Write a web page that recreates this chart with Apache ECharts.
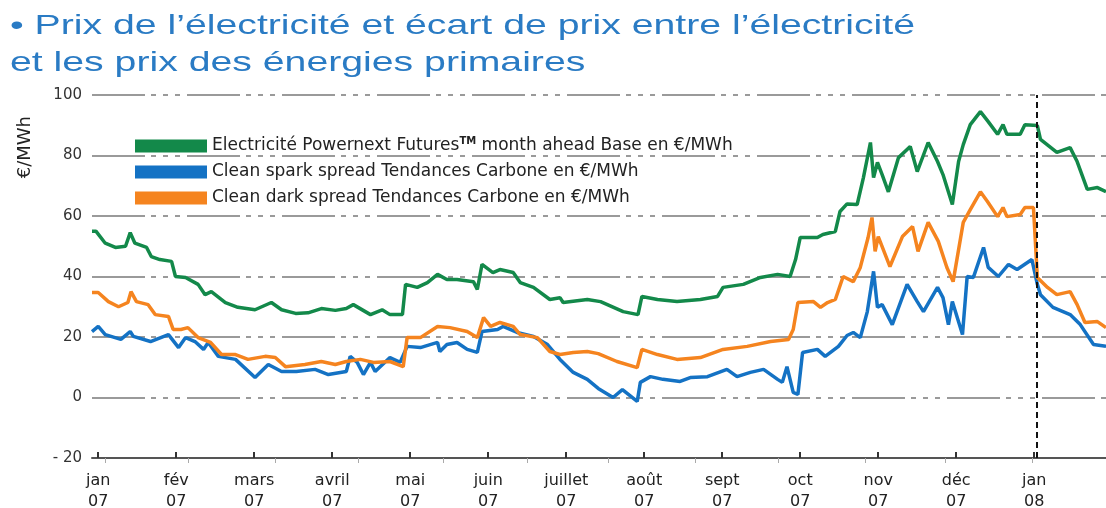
<!DOCTYPE html>
<html>
<head>
<meta charset="utf-8">
<script src="https://cdn.jsdelivr.net/npm/echarts@6/dist/echarts.min.js"></script>
<style>
	html, body { margin: 0; padding: 0; background: #fff; }
	#chart { width: 1106px; height: 508px; }
</style>
</head>
<body>
<div id="chart"></div>
<script>
// libellés des mois (axe x en mois depuis jan 07)
var monthLabels = ['jan\n07', 'fév\n07', 'mars\n07', 'avril\n07', 'mai\n07', 'juin\n07', 'juillet\n07',
	'août\n07', 'sept\n07', 'oct\n07', 'nov\n07', 'déc\n07', 'jan\n08'];
var monthTicks = [0, 1, 2, 3, 4, 5, 6, 7, 8, 9, 10, 11, 12];
var minorTicks = [0.09, 1.15, 2.27, 3.33, 4.42, 5.50, 6.54, 7.65, 8.72, 9.83, 10.86, 11.97];
var cutMonth = 12.03; // trait vertical pointillé début 2008

// Electricité Powernext Futures
var elecMonths = [-0.08, -0.03, 0.09, 0.22, 0.35, 0.41, 0.47, 0.62, 0.68, 0.79,
	0.94, 0.99, 1.12, 1.28, 1.37, 1.45, 1.63, 1.79, 2.01, 2.22,
	2.35, 2.53, 2.69, 2.86, 3.04, 3.18, 3.27, 3.49, 3.64, 3.74,
	3.90, 3.94, 4.09, 4.22, 4.35, 4.47, 4.60, 4.81, 4.86, 4.92,
	5.06, 5.15, 5.32, 5.41, 5.58, 5.79, 5.92, 5.96, 6.27, 6.44,
	6.73, 6.92, 6.97, 7.17, 7.42, 7.72, 7.94, 8.01, 8.27, 8.49,
	8.71, 8.87, 8.94, 9.00, 9.22, 9.29, 9.45, 9.51, 9.60, 9.73,
	9.81, 9.90, 9.94, 9.99, 10.05, 10.13, 10.26, 10.41, 10.50, 10.64,
	10.76, 10.83, 10.95, 11.03, 11.09, 11.18, 11.31, 11.41, 11.53, 11.60,
	11.65, 11.82, 11.88, 12.04, 12.08, 12.29, 12.46, 12.55, 12.68, 12.81, 12.92];
var elecValues = [55, 55, 51, 49.6, 50, 54.5, 51, 49.6, 46.6, 45.6,
	45, 40, 39.7, 37.4, 34, 35, 31.4, 29.8, 29, 31.4,
	29, 27.8, 28, 29.4, 28.8, 29.4, 30.7, 27.4, 29, 27.4,
	27.4, 37.4, 36.4, 38, 40.7, 39, 39, 38.3, 35.7, 44,
	41.3, 42.3, 41.3, 38, 36.4, 32.4, 33, 31.4, 32.4, 31.7,
	28.4, 27.4, 33.4, 32.4, 31.7, 32.4, 33.4, 36.4, 37.4, 39.7,
	40.7, 40, 45.6, 52.9, 52.9, 53.9, 54.9, 61.5, 64, 63.8,
	72.7, 84.3, 72.7, 77.7, 73.7, 68, 79.3, 83, 74.7, 84.3,
	78, 73.7, 63.8, 78, 83.6, 90.2, 94.5, 91.2, 87, 90.2,
	87, 87, 90.2, 89.9, 85.3, 81, 82.6, 78, 68.8, 69.4, 68];

// Clean spark spread
var sparkMonths = [-0.08, 0.00, 0.09, 0.29, 0.41, 0.45, 0.67, 0.90, 1.03, 1.12,
	1.24, 1.35, 1.41, 1.54, 1.76, 2.01, 2.18, 2.35, 2.54, 2.78,
	2.95, 3.18, 3.23, 3.32, 3.40, 3.49, 3.55, 3.74, 3.87, 3.96,
	4.13, 4.35, 4.38, 4.47, 4.60, 4.73, 4.86, 4.92, 5.12, 5.19,
	5.37, 5.58, 5.76, 5.92, 6.09, 6.27, 6.41, 6.60, 6.72, 6.91,
	6.95, 7.08, 7.24, 7.46, 7.59, 7.81, 8.06, 8.19, 8.36, 8.53,
	8.71, 8.77, 8.83, 8.91, 8.97, 9.03, 9.22, 9.32, 9.49, 9.60,
	9.68, 9.77, 9.86, 9.94, 9.99, 10.05, 10.18, 10.37, 10.50, 10.58,
	10.76, 10.83, 10.90, 10.95, 11.08, 11.14, 11.22, 11.35, 11.41, 11.54,
	11.67, 11.78, 11.97, 12.04, 12.08, 12.24, 12.46, 12.59, 12.76, 12.92];
var sparkValues = [21.8, 23.5, 20.8, 19.2, 21.8, 20.2, 18.5, 20.8, 16.5, 19.8,
	18.5, 15.9, 18.2, 13.6, 12.6, 6.6, 10.9, 8.6, 8.6, 9.3,
	7.6, 8.6, 13.6, 11.6, 7.6, 11.6, 8.6, 13.2, 11.6, 16.9,
	16.5, 18.2, 15.2, 17.5, 18.2, 15.9, 14.9, 21.8, 22.5, 23.5,
	21.5, 20.2, 17.5, 12.6, 8.3, 6, 3, 0, 2.6, -1.3,
	5, 6.9, 6, 5.3, 6.6, 6.9, 9.3, 6.9, 8.3, 9.3,
	6, 5, 10.2, 1.7, 1, 14.9, 15.9, 13.6, 16.9, 20.5,
	21.5, 19.8, 28.4, 41.7, 29.8, 30.7, 24.1, 37.4, 31.7, 28.4,
	36.4, 33, 24.1, 31.7, 20.8, 40, 39.7, 49.6, 43, 40,
	44, 42.3, 45.6, 37.4, 34, 29.8, 27.4, 24.1, 17.5, 16.9];

// Clean dark spread
var darkMonths = [-0.08, 0.00, 0.13, 0.26, 0.38, 0.42, 0.49, 0.64, 0.73, 0.90,
	0.96, 1.06, 1.15, 1.28, 1.44, 1.58, 1.76, 1.92, 2.14, 2.27,
	2.40, 2.65, 2.86, 3.04, 3.18, 3.36, 3.53, 3.74, 3.91, 3.96,
	4.13, 4.35, 4.51, 4.73, 4.86, 4.94, 5.03, 5.15, 5.32, 5.41,
	5.63, 5.79, 5.92, 6.09, 6.27, 6.41, 6.65, 6.91, 6.97, 7.17,
	7.42, 7.72, 8.01, 8.32, 8.62, 8.85, 8.91, 8.97, 9.17, 9.26,
	9.35, 9.45, 9.55, 9.68, 9.77, 9.87, 9.92, 9.96, 10.00, 10.15,
	10.31, 10.44, 10.51, 10.64, 10.77, 10.88, 10.96, 11.09, 11.18, 11.31,
	11.40, 11.53, 11.60, 11.65, 11.82, 11.88, 11.99, 12.04, 12.17, 12.29,
	12.46, 12.55, 12.65, 12.81, 12.92];
var darkValues = [34.7, 34.7, 31.7, 30, 31.4, 35, 31.7, 30.7, 27.4, 26.8,
	22.5, 22.5, 23.1, 19.8, 18.2, 14.2, 14.2, 12.6, 13.6, 13.2,
	10.2, 10.9, 11.9, 10.9, 11.9, 12.6, 11.6, 11.9, 10.2, 19.8,
	19.8, 23.5, 23.1, 21.8, 19.8, 26.4, 23.5, 24.8, 23.5, 20.8,
	19.8, 15.2, 14.2, 14.9, 15.2, 14.5, 11.9, 9.9, 15.9, 14.2,
	12.6, 13.2, 15.9, 16.9, 18.5, 19.2, 22.5, 31.4, 31.7, 29.8,
	31.4, 32.4, 40, 38.3, 43, 52.9, 59.5, 48.3, 53.2, 43.3,
	53.2, 56.5, 48.3, 57.9, 51.6, 43, 38.3, 57.9, 62.1, 68,
	64.8, 59.8, 62.8, 59.8, 60.5, 62.8, 62.8, 39.7, 36.4, 34,
	35, 30.7, 24.8, 25.1, 23.1];

var titleLines = ['• Prix de l’électricité et écart de prix entre l’électricité', 'et les prix des énergies primaires'];
var elecName = 'Electricité Powernext Futures month ahead Base en €/MWh';
var sparkName = 'Clean spark spread Tendances Carbone en €/MWh';
var darkName = 'Clean dark spread Tendances Carbone en €/MWh';

function pairs(xs, ys) {
	var out = [];
	for(var i = 0; i < xs.length; i++) {
		out.push([xs[i], ys[i]]);
	}
	return out;
}

// le titre d'origine est étiré horizontalement : on calcule l'étirement
var titleFont = '28px "Liberation Sans", Arial, sans-serif';
var ctx = document.createElement('canvas').getContext('2d');
ctx.font = titleFont;
var titleScale = 905 / ctx.measureText(titleLines[0]).width;

var labelFont = '"DejaVu Sans", sans-serif';
var gridDash = [53, 6, 5, 7, 5, 7, 5, 7];
var xMin = -0.08, xMax = 12.92;

var myChart = echarts.init(document.getElementById('chart'));
var option = {
	animation: false,
	backgroundColor: '#fff',
	graphic: [{
		type: 'text',
		x: 10,
		y: 12,
		scaleX: titleScale,
		style: {
			text: titleLines[0],
			font: titleFont,
			fill: '#2a7bc4',
			verticalAlign: 'top'
		}
	}, {
		type: 'text',
		x: 10,
		y: 49,
		scaleX: titleScale,
		style: {
			text: titleLines[1],
			font: titleFont,
			fill: '#2a7bc4',
			verticalAlign: 'top'
		}
	}, {
		type: 'text',
		left: 16,
		top: 116,
		rotation: Math.PI / 2,
		style: {
			text: '€/MWh',
			font: '18px "DejaVu Sans", sans-serif',
			fill: '#222'
		}
	}],
	legend: {
		orient: 'vertical',
		left: 130,
		top: 131,
		itemWidth: 72,
		itemHeight: 13,
		itemGap: 6,
		icon: 'rect',
		data: [elecName, sparkName, darkName],
		formatter: function(name) {
			if(name === elecName) {
				return 'Electricité Powernext Futures{sup|TM} month ahead Base en €/MWh';
			}
			return name;
		},
		textStyle: {
			fontFamily: labelFont,
			fontSize: 17,
			lineHeight: 20,
			color: '#222',
			rich: {
				sup: {
					fontFamily: labelFont,
					fontSize: 10,
					lineHeight: 10,
					fontWeight: 'bold',
					color: '#222',
					verticalAlign: 'top'
				}
			}
		}
	},
	grid: {
		left: 92,
		right: 0,
		top: 95,
		bottom: 50,
		containLabel: false,
		outerBoundsMode: 'none'
	},
	xAxis: [{
		type: 'value',
		z: 2,
		min: xMin,
		max: xMax,
		axisLine: { show: true, onZero: false, lineStyle: { color: '#555', width: 2 } },
		axisTick: {
			show: true,
			inside: true,
			length: 6,
			customValues: monthTicks,
			lineStyle: { color: '#333', width: 2 }
		},
		axisLabel: {
			customValues: monthTicks,
			formatter: function(v) {
				return monthLabels[Math.round(v)];
			},
			margin: 12,
			fontFamily: labelFont,
			fontSize: 16,
			lineHeight: 21,
			color: '#222'
		},
		splitLine: { show: false }
	}, {
		type: 'value',
		z: 2,
		position: 'bottom',
		min: xMin,
		max: xMax,
		axisLine: { show: false, onZero: false },
		axisTick: {
			show: true,
			length: 5,
			customValues: minorTicks,
			lineStyle: { color: '#aaa', width: 1 }
		},
		axisLabel: { show: false },
		splitLine: { show: false }
	}],
	yAxis: {
		type: 'value',
		min: -20,
		max: 100,
		interval: 20,
		axisLine: { show: false },
		axisTick: { show: false },
		axisLabel: {
			margin: 10,
			fontFamily: labelFont,
			fontSize: 15,
			color: '#333',
			formatter: function(v) {
				return v < 0 ? '- ' + Math.abs(v) : String(v);
			}
		},
		splitLine: {
			show: true,
			lineStyle: { color: '#9a9a9a', width: 2, type: gridDash }
		}
	},
	series: [{
		name: elecName,
		type: 'line',
		showSymbol: false,
		symbol: 'none',
		color: '#13894a',
		lineStyle: { width: 3.5 },
		data: pairs(elecMonths, elecValues),
		markLine: {
			silent: true,
			symbol: 'none',
			label: { show: false },
			lineStyle: { color: '#111', width: 2, type: [6, 4] },
			data: [{ xAxis: cutMonth }]
		},
		z: 3
	}, {
		name: sparkName,
		type: 'line',
		showSymbol: false,
		symbol: 'none',
		color: '#1472c4',
		lineStyle: { width: 3.5 },
		data: pairs(sparkMonths, sparkValues),
		z: 3
	}, {
		name: darkName,
		type: 'line',
		showSymbol: false,
		symbol: 'none',
		color: '#f5841f',
		lineStyle: { width: 3.5 },
		data: pairs(darkMonths, darkValues),
		z: 3
	}]
};
myChart.setOption(option);
</script>
</body>
</html>
